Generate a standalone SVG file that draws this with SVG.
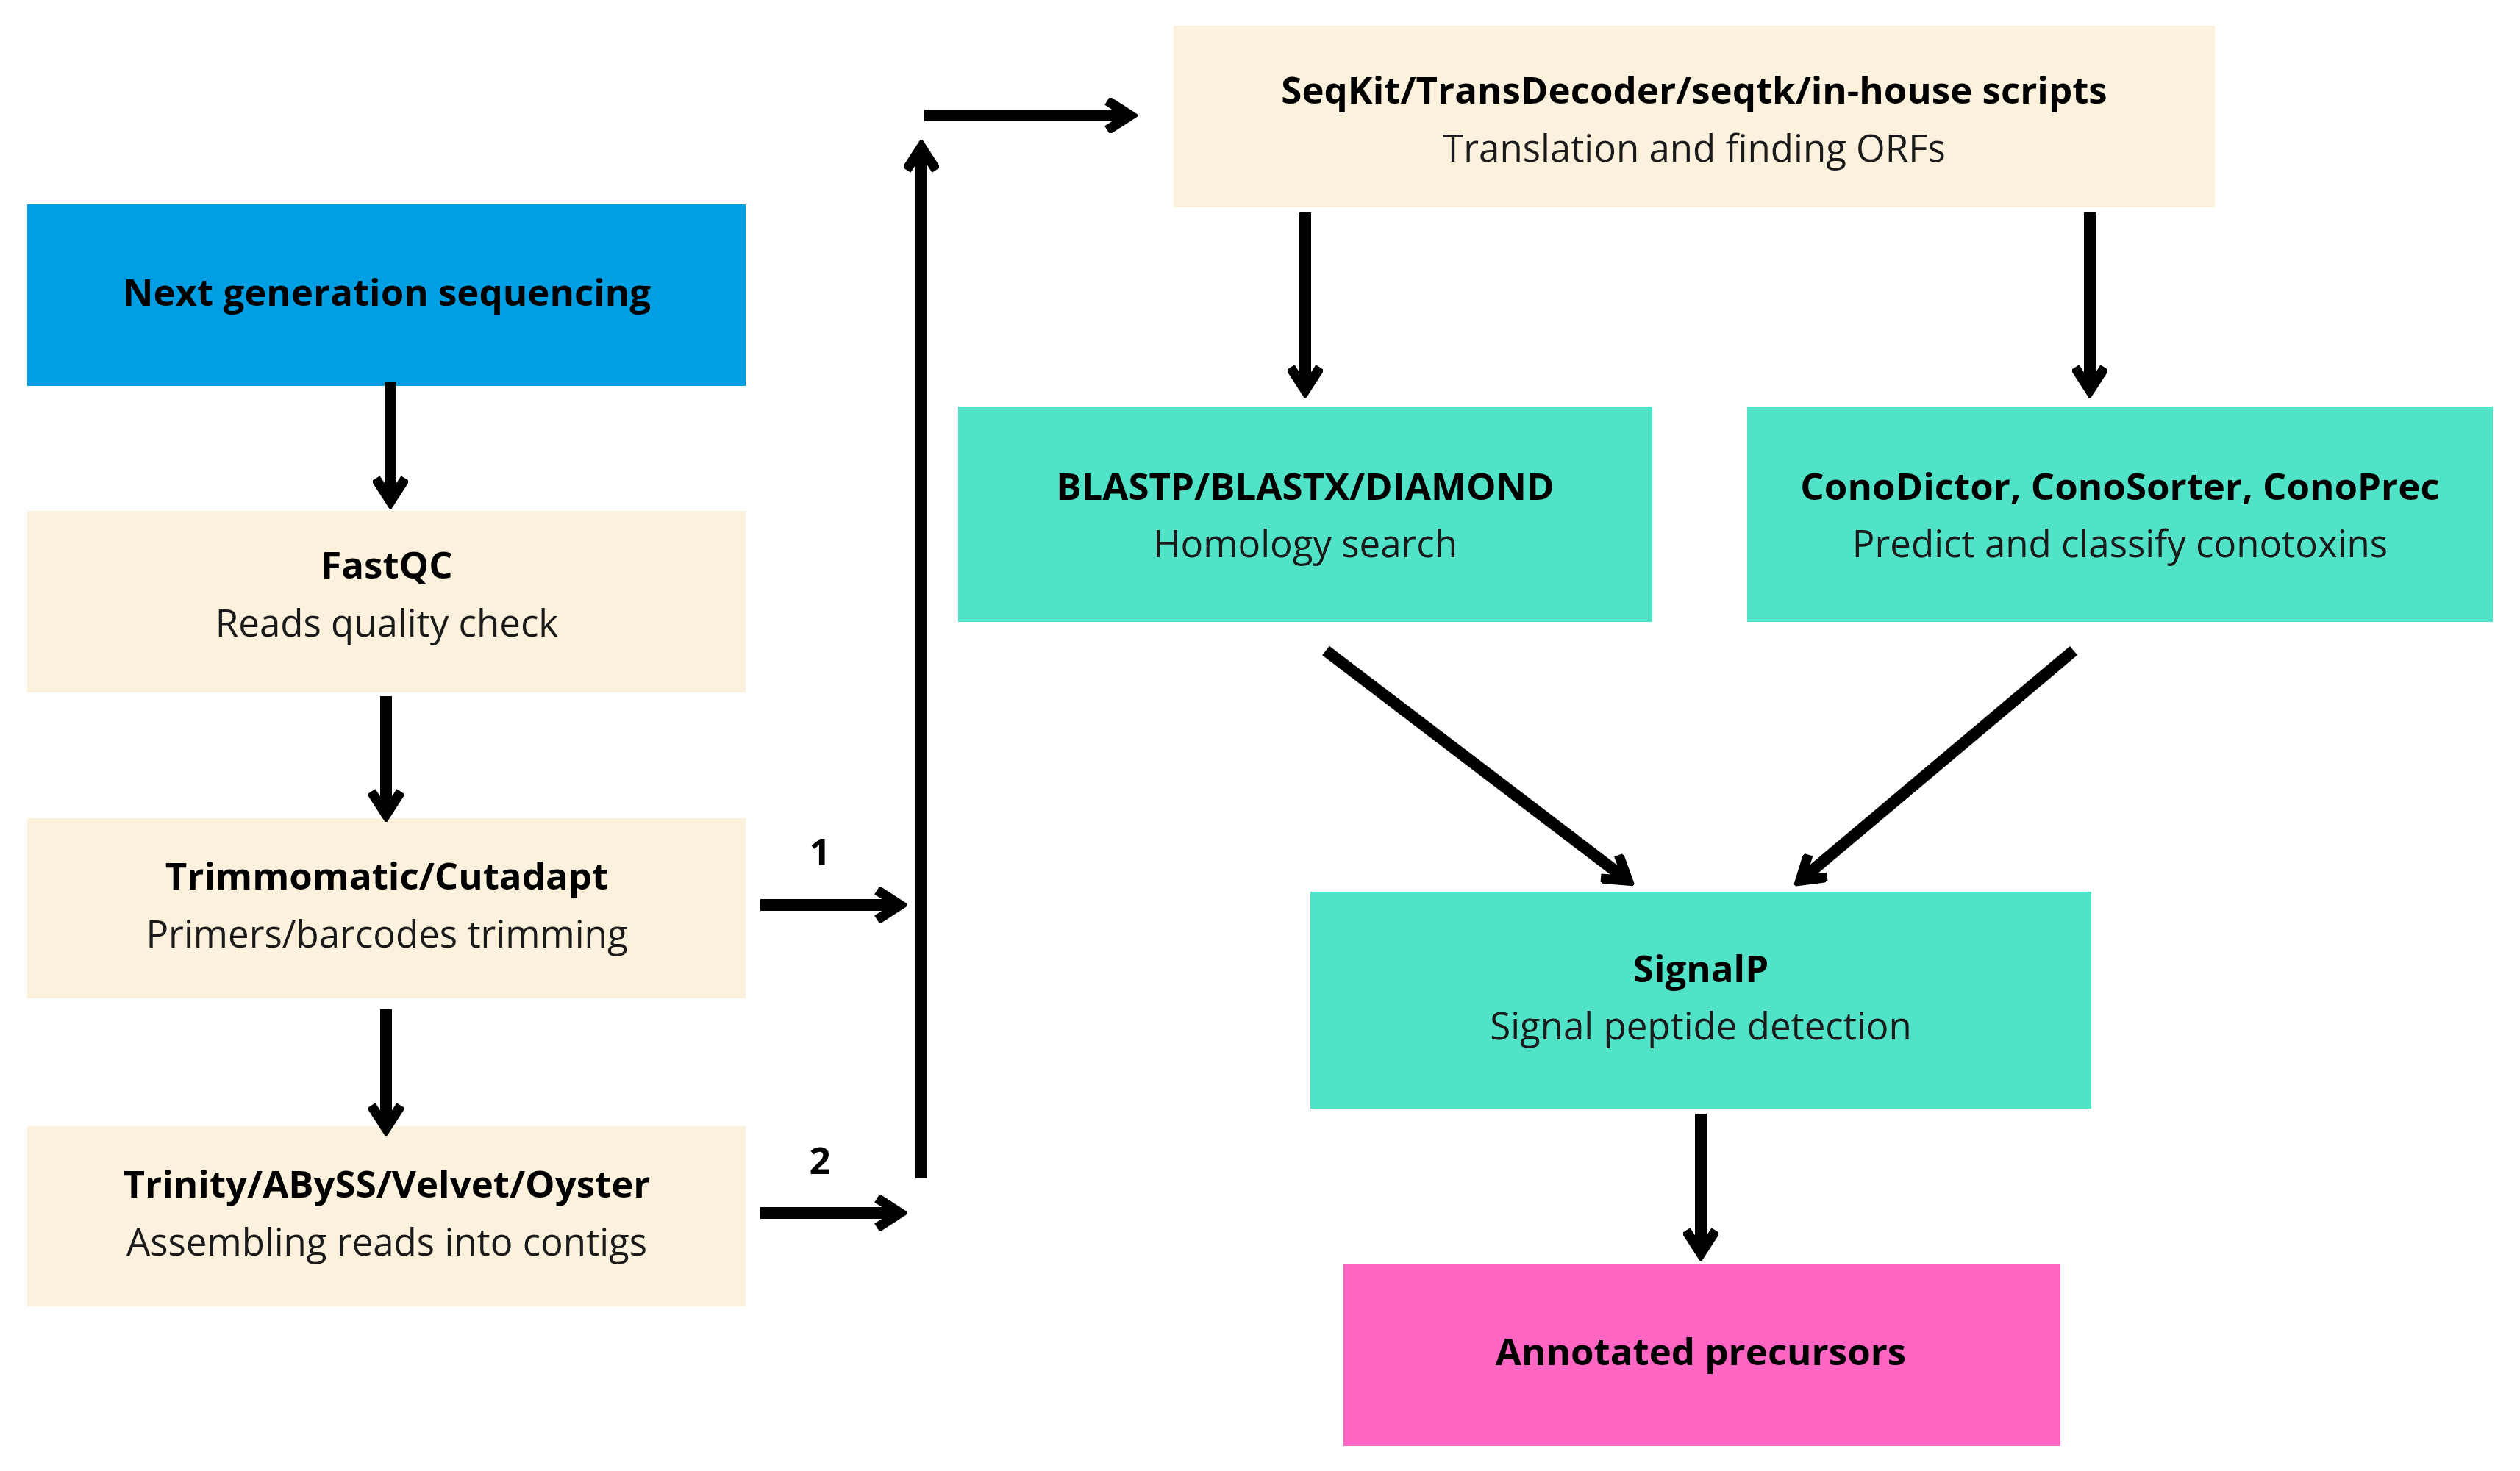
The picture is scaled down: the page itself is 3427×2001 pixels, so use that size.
<svg xmlns="http://www.w3.org/2000/svg" width="3427" height="2001" viewBox="0 0 3427 2001">
<style>
.t{font-family:"Open Sans","Liberation Sans",sans-serif;font-size:51px;font-weight:bold;fill:#000;text-anchor:middle}
.s{font-family:"Open Sans","Liberation Sans",sans-serif;font-size:51px;fill:#1a1a1a;text-anchor:middle}
.beige{fill:#FBF1DC}.teal{fill:#50E3C8}
.a{stroke:#000;stroke-width:16;fill:none;marker-end:url(#h)}
</style>
<defs><marker id="h" viewBox="0 0 10 10" refX="8" refY="5" markerWidth="3" markerHeight="3" orient="auto" markerUnits="strokeWidth"><path d="M1.5,0.8 L8,5 L1.5,9.2" fill="none" stroke="#000" stroke-width="2.8" stroke-linejoin="miter"/></marker></defs>
<rect width="3427" height="2001" fill="#fff"/>
<g id="ngs"><rect x="37" y="278" width="977" height="247" fill="#009FE3"/><text class="t" x="526" y="416">Next generation sequencing</text></g>
<g id="fastqc"><rect class="beige" x="37" y="695" width="977" height="247"/><text class="t" x="526" y="787">FastQC</text><text class="s" x="526" y="866">Reads quality check</text></g>
<g id="trim"><rect class="beige" x="37" y="1113" width="977" height="245"/><text class="t" x="526" y="1210">Trimmomatic/Cutadapt</text><text class="s" x="526" y="1289">Primers/barcodes trimming</text></g>
<g id="trinity"><rect class="beige" x="37" y="1532" width="977" height="245"/><text class="t" x="526" y="1629">Trinity/ABySS/Velvet/Oyster</text><text class="s" x="526" y="1708">Assembling reads into contigs</text></g>
<g id="seqkit"><rect class="beige" x="1596" y="35" width="1416" height="247"/><text class="t" x="2304" y="141">SeqKit/TransDecoder/seqtk/in-house scripts</text><text class="s" x="2304" y="220">Translation and finding ORFs</text></g>
<g id="blastp"><rect class="teal" x="1303" y="553" width="944" height="293"/><text class="t" x="1775" y="680">BLASTP/BLASTX/DIAMOND</text><text class="s" x="1775" y="758">Homology search</text></g>
<g id="cono"><rect class="teal" x="2376" y="553" width="1014" height="293"/><text class="t" x="2883" y="680">ConoDictor, ConoSorter, ConoPrec</text><text class="s" x="2883" y="758">Predict and classify conotoxins</text></g>
<g id="signalp"><rect class="teal" x="1782" y="1213" width="1062" height="295"/><text class="t" x="2313" y="1336">SignalP</text><text class="s" x="2313" y="1414">Signal peptide detection</text></g>
<g id="annot"><rect x="1827" y="1720" width="975" height="247" fill="#FF66C4"/><text class="t" x="2313" y="1857">Annotated precursors</text></g>
<g id="connectors">
<line class="a" x1="531" y1="520" x2="531" y2="682"/>
<line class="a" x1="525" y1="947" x2="525" y2="1108"/>
<line class="a" x1="525" y1="1373" x2="525" y2="1535"/>
<line class="a" x1="1034" y1="1231" x2="1224" y2="1231"/>
<line class="a" x1="1034" y1="1650" x2="1224" y2="1650"/>
<line class="a" x1="1253" y1="1603" x2="1253" y2="200"/>
<line class="a" x1="1257" y1="157" x2="1537" y2="157"/>
<line class="a" x1="1775" y1="289" x2="1775" y2="531"/>
<line class="a" x1="2842" y1="289" x2="2842" y2="531"/>
<line class="a" x1="1803" y1="885" x2="2214" y2="1198"/>
<line class="a" x1="2820" y1="885" x2="2448" y2="1198"/>
<line class="a" x1="2313" y1="1515" x2="2313" y2="1705"/>
<text class="t" x="1115" y="1177">1</text>
<text class="t" x="1115" y="1597">2</text>
</g>
</svg>
